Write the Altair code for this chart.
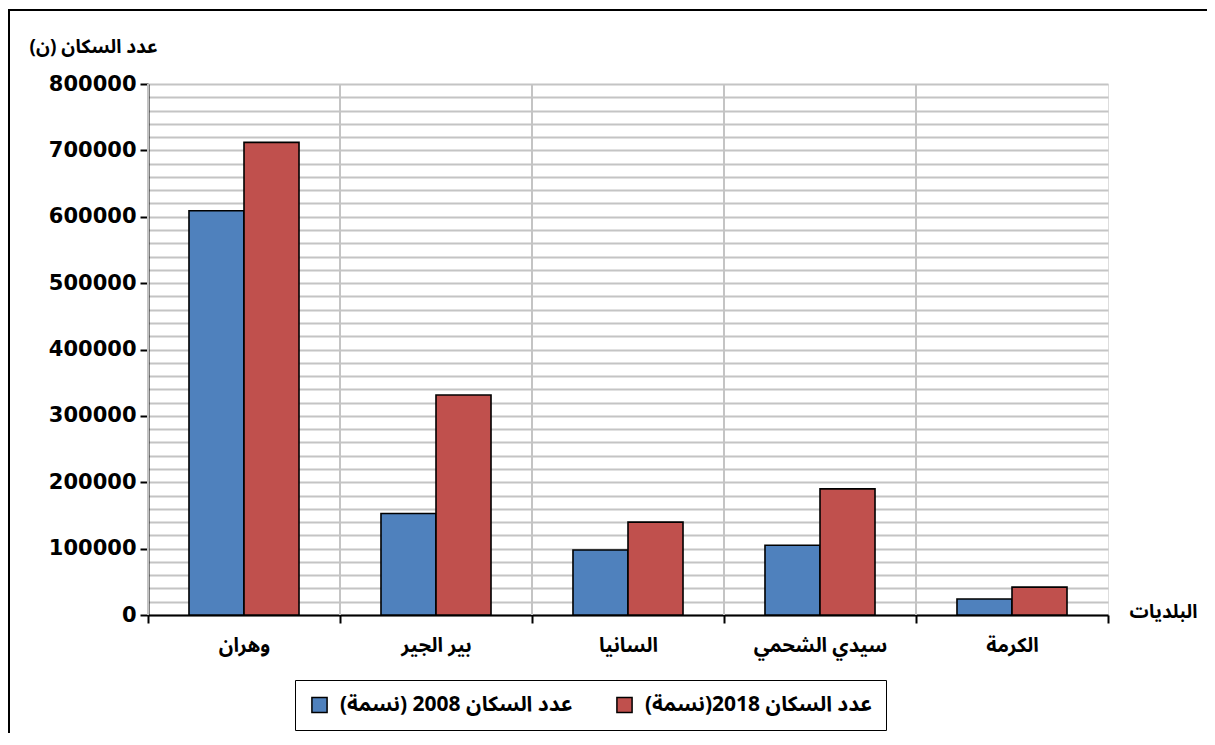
import altair as alt
import pandas as pd

cities = ["وهران", "بير الجير", "السانيا", "سيدي الشحمي", "الكرمة"]
pop_2008 = [609000, 153000, 98000, 105000, 24000]
pop_2018 = [712000, 331500, 140000, 190000, 42000]
series_names = ["عدد السكان 2008 (نسمة)", "عدد السكان 2018(نسمة)"]
colors = ["#4f81bd", "#c0504d"]

rows = []
for c, a, b in zip(cities, pop_2008, pop_2018):
    rows.append({"city": c, "series": series_names[0], "value": a})
    rows.append({"city": c, "series": series_names[1], "value": b})
df = pd.DataFrame(rows)
cdf = pd.DataFrame({"city": cities})

FONT = "DejaVu Sans, Liberation Sans, sans-serif"
AFONT = "Noto Sans Arabic, Noto Naskh Arabic, DejaVu Sans, sans-serif"
W, H = 960, 531

xscale = alt.Scale(domain=cities, paddingInner=0, paddingOuter=0)

bars = alt.Chart(df).mark_bar(stroke="black", strokeWidth=1.6).encode(
    x=alt.X("city:N", sort=cities, scale=xscale,
            axis=alt.Axis(title="البلديات", titleAngle=0, titleX=1015, titleY=-4,
                          titleAlign="center", titleBaseline="middle",
                          titleFont=AFONT, titleFontSize=19, titleFontWeight="bold",
                          titleColor="black",
                          labelAngle=0, labelAlign="center", labelFont=AFONT, labelFontSize=20,
                          labelFontWeight="bold", labelColor="black", labelPadding=22,
                          tickBand="extent", tickSize=8, tickColor="black", tickWidth=2,
                          domainColor="black", domainWidth=2, grid=False)),
    xOffset=alt.XOffset("series:N", sort=series_names,
                        scale=alt.Scale(paddingOuter=0.745, paddingInner=0)),
    y=alt.Y("value:Q", scale=alt.Scale(domain=[0, 800000], nice=False),
            axis=alt.Axis(values=list(range(0, 800001, 20000)),
                          labelExpr="datum.value % 100000 === 0 ? '' + datum.value : ''",
                          title="عدد السكان (ن)", titleAngle=0, titleX=-55, titleY=-38,
                          titleAlign="center", titleBaseline="middle",
                          titleFont=AFONT, titleFontSize=19, titleFontWeight="bold",
                          titleColor="black",
                          labelFont=FONT, labelFontSize=21, labelFontWeight="bold",
                          labelColor="black", labelPadding=4,
                          tickSize=8, tickColor="black", tickWidth=2,
                          tickOpacity={"condition": {"test": "datum.value % 100000 === 0", "value": 1}, "value": 0},
                          domainColor="black", domainWidth=2,
                          grid=True, gridColor="#c4c4c4", gridWidth=2)),
    color=alt.Color("series:N", scale=alt.Scale(domain=series_names, range=colors),
                    legend=alt.Legend(orient="none", legendX=147, legendY=596,
                                      direction="horizontal", columns=2, title=None,
                                      strokeColor="black", padding=14,
                                      symbolType="square", symbolSize=230,
                                      symbolStrokeColor="black", symbolStrokeWidth=1.5,
                                      symbolOpacity=1,
                                      labelFont=AFONT, labelFontSize=21,
                                      labelFontWeight="bold", labelColor="black",
                                      labelLimit=0, columnPadding=40, labelOffset=10)),
)

vgrid = alt.Chart(cdf).mark_rule(color="#c4c4c4", strokeWidth=2).encode(
    x=alt.X("city:N", sort=cities, scale=xscale, bandPosition=0),
)

frame = alt.Chart(cdf).mark_rect(fill=None, stroke="black", strokeWidth=2).encode(
    x=alt.value(-139), x2=alt.value(1200), y=alt.value(-74), y2=alt.value(800),
)

chart = alt.layer(frame, vgrid, bars).properties(
    width=W, height=H,
    autosize=alt.AutoSizeParams(type="none"),
    padding={"left": 140, "top": 76, "right": 99, "bottom": 118},
).configure_view(stroke=None).configure(background="white")

chart.save("out.html", embed_options={"renderer": "svg", "actions": False})
